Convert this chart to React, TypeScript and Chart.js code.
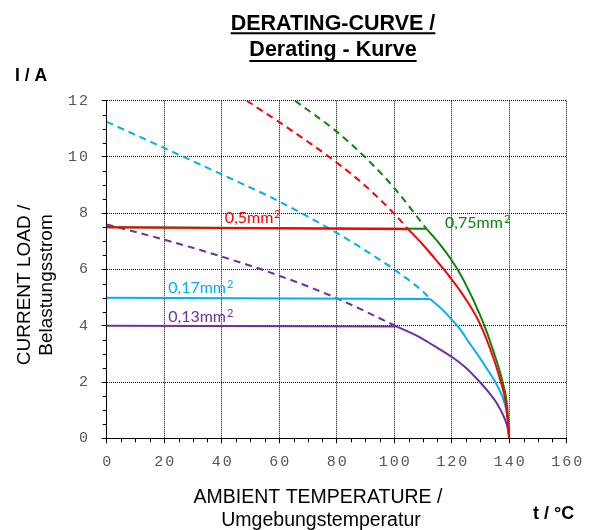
import React, { useEffect, useRef } from "react";
import { Chart, registerables } from "chart.js";

Chart.register(...registerables);

// Axis ticks
const xTickValues = [0, 20, 40, 60, 80, 100, 120, 140, 160];
const yTickValues = [0, 2, 4, 6, 8, 10, 12];

// 0,75 mm² (green): flat part, derating curve, extrapolation (dashed)
const greenFlatX = [0, 111.2];
const greenFlatY = [7.5, 7.45];
const greenX = [111.2, 115.5, 120, 124, 130.4, 134.5, 137.7, 139.3, 140];
const greenY = [7.45, 6.95, 6.33, 5.65, 4.25, 3.1, 2.0, 1.12, 0];
const greenDashX = [65.5, 80, 90, 100, 111.2];
const greenDashY = [12, 10.9, 9.98, 8.9, 7.45];

// 0,5 mm² (red)
const redFlatX = [0, 104.9];
const redFlatY = [7.5, 7.43];
const redX = [104.9, 110, 114.2, 117.7, 120, 125, 129.2, 133.3, 136.8, 138.9, 140];
const redY = [7.43, 6.88, 6.38, 5.95, 5.65, 4.93, 4.2, 3.2, 2.1, 1.2, 0];
const redDashX = [48.7, 60, 70, 80, 90, 100.3, 104.9];
const redDashY = [12, 11.24, 10.54, 9.8, 8.97, 7.95, 7.43];

// 0,17 mm² (cyan)
const cyanFlatX = [0, 112.5];
const cyanFlatY = [5.0, 4.95];
const cyanX = [112.5, 116.5, 120.2, 122.9, 126.4, 129.5, 132.7, 135.7, 138.5, 139.7, 140];
const cyanY = [4.95, 4.6, 4.2, 3.88, 3.35, 2.9, 2.4, 1.9, 1.2, 0.5, 0];
const cyanDashX = [0, 20, 40, 60, 80, 94.5, 100, 110.7, 112.5];
const cyanDashY = [11.25, 10.32, 9.38, 8.42, 7.3, 6.38, 6.0, 5.15, 4.95];

// 0,13 mm² (purple)
const purpleFlatX = [0, 101];
const purpleFlatY = [4.0, 3.97];
const purpleX = [101, 109, 113.6, 120.2, 125, 129.8, 133, 135.6, 138.5, 139.5, 140];
const purpleY = [3.97, 3.59, 3.3, 2.88, 2.5, 2.0, 1.62, 1.26, 0.68, 0.35, 0];
const purpleDashX = [0, 20, 40, 60, 80, 101];
const purpleDashY = [7.6, 7.06, 6.46, 5.78, 4.98, 3.97];

// Series labels: text, anchor (x value, baseline y value)
const labelTexts = ["0,5mm²", "0,75mm²", "0,17mm²", "0,13mm²"];
const labelX = [41.1, 117.7, 21.4, 21.4];
const labelY = [7.64, 7.46, 5.15, 4.12];

const RED = "#FF0000";
const GREEN = "#0A840A";
const CYAN = "#00B0F0";
const PURPLE = "#7030A0";
const labelColors = [RED, GREEN, CYAN, PURPLE];

function pts(xs: number[], ys: number[]) {
  return xs.map((x, i) => ({ x, y: ys[i] }));
}

export default function App() {
  const ref = useRef<HTMLCanvasElement>(null);

  useEffect(() => {
    const canvas = ref.current;
    if (!canvas) return;

    const overlay = {
      id: "overlay",
      afterDraw(chart: any) {
        const ctx = chart.ctx as CanvasRenderingContext2D;
        const xs = chart.scales.x;
        const ys = chart.scales.y;
        const area = chart.chartArea;
        ctx.save();

        // minor ticks
        ctx.strokeStyle = "#000";
        ctx.lineWidth = 1;
        ctx.setLineDash([]);
        ctx.beginPath();
        for (let v = 5; v < 160; v += 5) {
          if (v % 20 === 0) continue;
          const px = Math.round(xs.getPixelForValue(v)) + 0.5;
          ctx.moveTo(px, area.bottom);
          ctx.lineTo(px, area.bottom + 4);
        }
        for (let v = 0.5; v < 12; v += 0.5) {
          if (v % 2 === 0) continue;
          const py = Math.round(ys.getPixelForValue(v)) + 0.5;
          ctx.moveTo(area.left - 4, py);
          ctx.lineTo(area.left, py);
        }
        ctx.stroke();

        // tick labels
        ctx.fillStyle = "#555";
        ctx.font = "15px 'Liberation Mono', monospace";
        (ctx as any).letterSpacing = "2px";
        ctx.textBaseline = "middle";
        ctx.textAlign = "left";
        xTickValues.forEach((v) => {
          const s = String(v);
          const w = ctx.measureText(s).width - 2;
          ctx.fillText(s, xs.getPixelForValue(v) - w / 2, 462);
        });
        yTickValues.forEach((v) => {
          const s = String(v);
          const w = ctx.measureText(s).width - 2;
          ctx.fillText(s, 88 - w, ys.getPixelForValue(v));
        });
        (ctx as any).letterSpacing = "0px";

        // title
        ctx.fillStyle = "#000";
        ctx.strokeStyle = "#000";
        ctx.textAlign = "center";
        ctx.textBaseline = "alphabetic";
        ctx.font = "bold 21.5px 'Liberation Sans', Arial, sans-serif";
        const titleLines = ["DERATING-CURVE /", "Derating - Kurve"];
        const baselines = [29.5, 56];
        const underlines = [33.3, 61];
        titleLines.forEach((t, i) => {
          ctx.fillText(t, 333, baselines[i]);
          const w = ctx.measureText(t).width;
          ctx.lineWidth = 2;
          ctx.beginPath();
          ctx.moveTo(333 - w / 2, underlines[i]);
          ctx.lineTo(333 + w / 2, underlines[i]);
          ctx.stroke();
        });

        // unit labels
        ctx.textAlign = "left";
        ctx.font = "bold 17.5px 'Liberation Sans', Arial, sans-serif";
        ctx.fillText("I / A", 15, 81);
        ctx.font = "bold 18px 'Liberation Sans', Arial, sans-serif";
        ctx.fillText("t / °C", 533, 519);

        // x axis title
        ctx.textAlign = "center";
        ctx.font = "19.5px 'Liberation Sans', Arial, sans-serif";
        ctx.fillText("AMBIENT TEMPERATURE /", 318, 503);
        ctx.fillText("Umgebungstemperatur", 321, 526);

        // y axis title
        ctx.save();
        ctx.translate(25, 285);
        ctx.rotate(-Math.PI / 2);
        ctx.textBaseline = "middle";
        ctx.font = "19px 'Liberation Sans', Arial, sans-serif";
        ctx.fillText("CURRENT LOAD /", 0, 0);
        ctx.fillText("Belastungsstrom", 0, 22);
        ctx.restore();

        // series labels (superscript drawn a little larger than the font's own ²)
        ctx.textAlign = "left";
        ctx.textBaseline = "alphabetic";
        labelTexts.forEach((t, i) => {
          ctx.fillStyle = labelColors[i];
          const base = t.replace("²", "");
          const px = xs.getPixelForValue(labelX[i]);
          const py = ys.getPixelForValue(labelY[i]);
          ctx.font = "16px Lato, 'Open Sans', sans-serif";
          ctx.fillText(base, px, py);
          const w = ctx.measureText(base).width;
          ctx.font = "11px Lato, 'Open Sans', sans-serif";
          ctx.fillText("2", px + w + 1, py - 5);
        });

        ctx.restore();
      },
    };

    const solid = (data: any, color: string, smooth: boolean) => ({
      data,
      borderColor: color,
      backgroundColor: color,
      borderWidth: 2,
      pointRadius: 0,
      cubicInterpolationMode: smooth ? "monotone" : "default",
      tension: 0,
      fill: false,
    });
    const dashed = (data: any, color: string) => ({
      data,
      borderColor: color,
      backgroundColor: color,
      borderWidth: 2,
      borderDash: [7, 5],
      pointRadius: 0,
      cubicInterpolationMode: "monotone",
      fill: false,
    });

    const chart = new Chart(canvas, {
      type: "line",
      data: {
        datasets: [
          solid(pts(redFlatX, redFlatY), RED, false),
          solid(pts(redX, redY), RED, true),
          solid(pts(greenFlatX, greenFlatY), GREEN, false),
          solid(pts(greenX, greenY), GREEN, true),
          solid(pts(cyanFlatX, cyanFlatY), CYAN, false),
          solid(pts(cyanX, cyanY), CYAN, true),
          solid(pts(purpleFlatX, purpleFlatY), PURPLE, false),
          solid(pts(purpleX, purpleY), PURPLE, true),
          dashed(pts(redDashX, redDashY), RED),
          dashed(pts(greenDashX, greenDashY), GREEN),
          dashed(pts(cyanDashX, cyanDashY), CYAN),
          dashed(pts(purpleDashX, purpleDashY), PURPLE),
        ] as any,
      },
      options: {
        animation: false,
        responsive: false,
        maintainAspectRatio: false,
        layout: { padding: { top: 100.7, right: 23.3, bottom: 51.7, left: 0 } },
        plugins: {
          legend: { display: false },
          tooltip: { enabled: false },
          title: { display: false },
        },
        scales: {
          x: {
            type: "linear",
            min: 0,
            max: 160,
            ticks: { stepSize: 20, display: false },
            grid: {
              color: "#000",
              lineWidth: 1,
              drawTicks: true,
              tickLength: 5,
              tickColor: "#000",
              tickBorderDash: [],
            },
            border: { display: true, color: "#000", width: 1, dash: [1, 1] },
            afterFit: (s: any) => {
              s.height = 40;
            },
          },
          y: {
            type: "linear",
            min: 0,
            max: 12,
            ticks: { stepSize: 2, display: false },
            grid: {
              color: "#000",
              lineWidth: 1,
              drawTicks: true,
              tickLength: 5,
              tickColor: "#000",
              tickBorderDash: [],
            },
            border: { display: true, color: "#000", width: 1, dash: [1, 1] },
            afterFit: (s: any) => {
              s.width = 106.7;
            },
          },
        },
      } as any,
      plugins: [overlay],
    });

    return () => chart.destroy();
  }, []);

  return (
    <div style={{ position: "absolute", left: 0, top: 0, width: 590, height: 530, background: "#fff" }}>
      <canvas ref={ref} width={590} height={530} style={{ display: "block" }} />
    </div>
  );
}
